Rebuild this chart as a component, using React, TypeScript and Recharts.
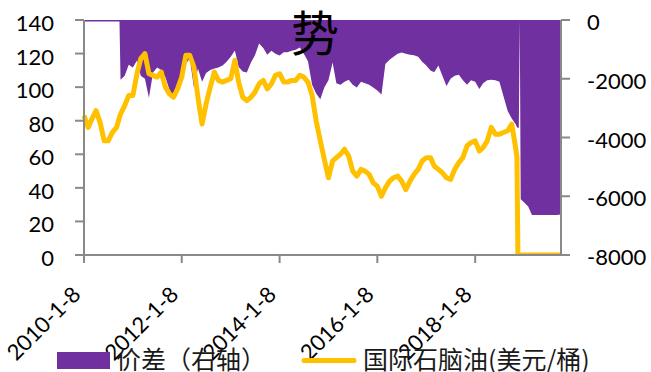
import React from "react";
import { ComposedChart, Area, Line, XAxis, YAxis } from "recharts";

// ---- categories (dates) ----
const dates: string[] = [
  "2010-01-08","2010-02-08","2010-03-08","2010-04-08","2010-05-08","2010-06-08","2010-07-08","2010-08-08","2010-09-08","2010-09-30","2010-10-08","2010-11-08","2010-12-08",
  "2011-01-08","2011-02-08","2011-03-08","2011-04-08","2011-05-08","2011-06-08","2011-07-08","2011-08-08","2011-09-08","2011-10-08","2011-11-08","2011-12-08",
  "2012-01-08","2012-02-08","2012-03-08","2012-04-08","2012-05-08","2012-06-08","2012-07-08","2012-08-08","2012-09-08","2012-10-08","2012-11-08","2012-12-08",
  "2013-01-08","2013-02-08","2013-03-08","2013-04-08","2013-05-08","2013-06-08","2013-07-08","2013-08-08","2013-09-08","2013-10-08","2013-11-08","2013-12-08",
  "2014-01-08","2014-02-08","2014-03-08","2014-04-08","2014-05-08","2014-06-08","2014-07-08","2014-08-08","2014-09-08","2014-10-08","2014-11-08","2014-12-08",
  "2015-01-08","2015-02-08","2015-03-08","2015-04-08","2015-05-08","2015-06-08","2015-07-08","2015-08-08","2015-09-08","2015-10-08","2015-11-08","2015-12-08",
  "2016-01-08","2016-02-08","2016-03-08","2016-04-08","2016-05-08","2016-06-08","2016-07-08","2016-08-08","2016-09-08","2016-10-08","2016-11-08","2016-12-08",
  "2017-01-08","2017-02-08","2017-03-08","2017-04-08","2017-05-08","2017-06-08","2017-07-08","2017-08-08","2017-09-08","2017-10-08","2017-11-08","2017-12-08",
  "2018-01-08","2018-02-08","2018-03-08","2018-04-08","2018-05-08","2018-06-08","2018-07-08","2018-08-08","2018-09-08","2018-10-08","2018-11-08","2018-11-16","2018-11-23","2018-11-30","2018-12-07","2018-12-14",
  "2019-01-08","2019-02-08","2019-03-08","2019-04-08","2019-05-08","2019-06-08","2019-07-08","2019-08-08","2019-09-08","2019-10-11",
];

// ---- 国际石脑油 (美元/桶), left axis ----
const naphtha: number[] = [
  83,76,81,86,79,68,68,73,76,82,84,89,95,
  95,108,117,120,108,107,106,109,100,96,94,99,
  106,119,119,112,94,78,90,100,109,104,103,104,
  105,116,103,94,92,94,97,102,104,99,102,107,
  108,103,103,104,104,107,106,103,95,80,68,57,
  46,56,58,60,63,59,50,47,51,50,48,43,
  41,35,40,44,46,47,44,39,44,48,51,56,
  58,58,53,51,49,46,45,51,55,58,65,67,
  68,62,64,68,76,72,72,73,74,78,63,58,0,0,0,0,
  0,0,0,0,0,0,0,0,0,0,
];

// ---- 价差 (右轴) ----
const spread: number[] = [
  -50,-50,-50,-50,-50,-50,-50,-50,-50,-50,-2030,-1900,-1520,
  -1620,-1380,-1900,-2000,-2650,-1790,-1620,-1700,-1950,-2370,-2700,-2500,
  -2000,-1500,-1300,-2300,-1650,-2100,-1800,-1700,-1650,-1620,-1550,-1420,
  -1250,-1040,-1600,-1750,-1790,-1450,-1200,-800,-950,-1180,-1050,-1150,
  -1210,-1100,-1100,-1050,-1010,-940,-1150,-1400,-2200,-2500,-2700,-2300,
  -2050,-1450,-2150,-2200,-2100,-2030,-2200,-2300,-2100,-2150,-2200,-2300,
  -2400,-2540,-1500,-1350,-1250,-1150,-1110,-1150,-1180,-1200,-1250,-1420,
  -1550,-1720,-1780,-1550,-1900,-2250,-2000,-1900,-1860,-2050,-2200,-2050,
  -2100,-2350,-2150,-2050,-2030,-2050,-2100,-2600,-3100,-3350,-3560,-3650,-3670,-3670,0,-6100,
  -6200,-6350,-6640,-6640,-6640,-6640,-6640,-6640,-6640,-6620,
];

// ---- tick labels ----
const xTickLabels = ["2010-1-8", "2012-1-8", "2014-1-8", "2016-1-8", "2018-1-8"];
const xDomainLabels = ["2010-1-8", "2019-10-11"];
const leftTicks = [0, 20, 40, 60, 80, 100, 120, 140];
const rightTicks = [-8000, -6000, -4000, -2000, 0];
const seriesNames = ["价差（右轴）", "国际石脑油(美元/桶)"];
const titleText = "势";

const PURPLE = "#7030A0";
const YELLOW = "#FFC000";
const AXIS = "#898989";
const NUM_FONT = "Lato, 'Liberation Sans', sans-serif";
const CJK_FONT = "'Noto Sans CJK SC', 'Noto Sans', sans-serif";

const toTime = (s: string) => {
  const [y, m, d] = s.split("-").map(Number);
  return Date.UTC(y, m - 1, d);
};

const data = dates.map((d, i) => ({
  t: toTime(d),
  naphtha: naphtha[i],
  spread: spread[i],
}));

const xTicks = xTickLabels.map(toTime);
const labelByTime: Record<number, string> = {};
xTickLabels.forEach((l) => (labelByTime[toTime(l)] = l));

const LeftTick = (props: any) => {
  const { x, y, payload } = props;
  return (
    <text x={x} y={y + 11} textAnchor="end" fontFamily={NUM_FONT} fontSize={22} fill="#000">
      {payload.value}
    </text>
  );
};

const RightTick = (props: any) => {
  const { x, y, payload } = props;
  return (
    <text x={x} y={y + 10} textAnchor="start" fontFamily={NUM_FONT} fontSize={22} fill="#000">
      {payload.value}
    </text>
  );
};

const BottomTick = (props: any) => {
  const { x, y, payload } = props;
  const ax = x - 2;
  const ay = y + 33;
  return (
    <text
      x={ax}
      y={ay}
      textAnchor="end"
      transform={`rotate(-45, ${ax}, ${ay})`}
      fontFamily={NUM_FONT}
      fontSize={22}
      fill="#000"
    >
      {labelByTime[payload.value] ?? ""}
    </text>
  );
};

export default function App() {
  return (
    <div style={{ position: "absolute", left: 0, top: 0, width: 651, height: 372, background: "#fff", overflow: "hidden" }}>
      <ComposedChart
        width={651}
        height={372}
        data={data}
        margin={{ top: 20, right: 30, bottom: 57, left: 24 }}
      >
        <XAxis
          dataKey="t"
          type="number"
          domain={[toTime(xDomainLabels[0]), toTime(xDomainLabels[1])]}
          ticks={xTicks}
          height={60}
          tickSize={8}
          tickMargin={0}
          axisLine={{ stroke: AXIS, strokeWidth: 2 }}
          tickLine={{ stroke: AXIS, strokeWidth: 2 }}
          tick={<BottomTick />}
          interval={0}
        />
        <YAxis
          yAxisId="left"
          orientation="left"
          domain={[0, 140]}
          ticks={leftTicks}
          width={60}
          tickSize={9}
          tickMargin={21}
          allowDataOverflow
          axisLine={{ stroke: AXIS, strokeWidth: 2 }}
          tickLine={{ stroke: AXIS, strokeWidth: 2 }}
          tick={<LeftTick />}
          interval={0}
        />
        <YAxis
          yAxisId="right"
          orientation="right"
          domain={[-8000, 0]}
          ticks={rightTicks}
          width={60}
          tickSize={9}
          tickMargin={17}
          axisLine={{ stroke: AXIS, strokeWidth: 2 }}
          tickLine={{ stroke: AXIS, strokeWidth: 2 }}
          tick={<RightTick />}
          interval={0}
        />
        <Area
          yAxisId="right"
          dataKey="spread"
          type="linear"
          stroke="none"
          fill={PURPLE}
          fillOpacity={1}
          baseValue="dataMax"
          isAnimationActive={false}
          name={seriesNames[0]}
        />
        <Line
          yAxisId="left"
          dataKey="naphtha"
          type="linear"
          stroke={YELLOW}
          strokeWidth={5}
          strokeLinejoin="round"
          dot={false}
          activeDot={false}
          isAnimationActive={false}
          name={seriesNames[1]}
        />
      </ComposedChart>
      <svg
        width={651}
        height={372}
        style={{ position: "absolute", left: 0, top: 0, pointerEvents: "none" }}
      >
        <text x={315} y={51} textAnchor="middle" fontFamily={CJK_FONT} fontSize={48} fill="#000">
          {titleText}
        </text>
        <rect x={57} y={352} width={53} height={17} fill={PURPLE} />
        <text x={116} y={369} fontFamily={CJK_FONT} fontSize={25} fill="#1a1a1a">
          {seriesNames[0]}
        </text>
        <line x1={304} y1={360.5} x2={354} y2={360.5} stroke={YELLOW} strokeWidth={5} strokeLinecap="round" />
        <text x={363} y={369} fontFamily={CJK_FONT} fontSize={25} fill="#1a1a1a">
          {seriesNames[1]}
        </text>
      </svg>
    </div>
  );
}
